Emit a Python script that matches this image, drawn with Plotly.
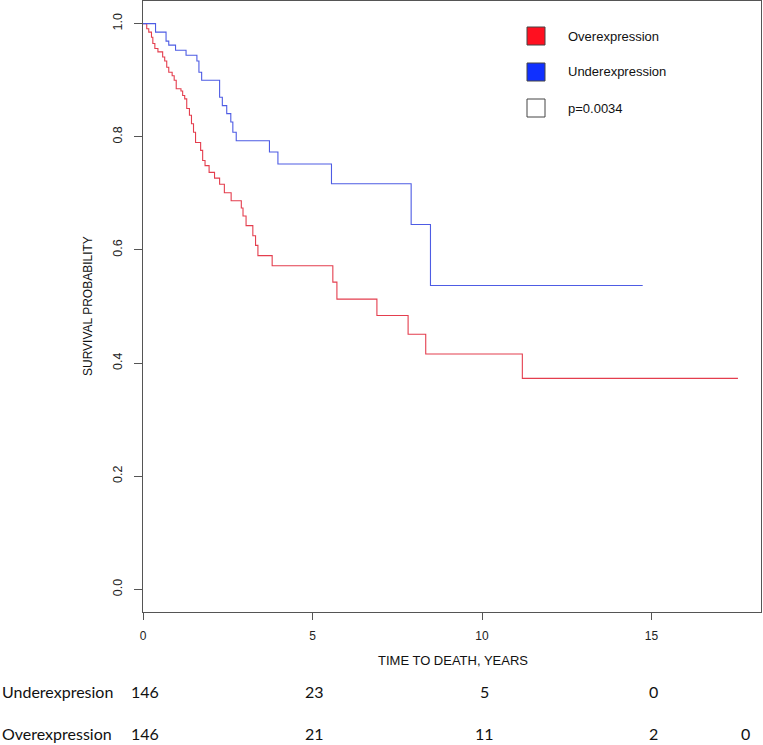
import plotly.graph_objects as go

# Kaplan-Meier step data (time in years, survival probability)
under_t = [0, 0.37, 0.68, 0.76, 0.96, 1.27, 1.59, 1.65, 1.73, 2.26, 2.34, 2.47, 2.59, 2.65, 2.75,
           3.73, 3.98, 5.56, 7.91, 8.48, 14.74]
under_s = [1.0, 0.985, 0.969, 0.962, 0.953, 0.944, 0.934, 0.914, 0.900, 0.870, 0.855, 0.841, 0.826,
           0.808, 0.793, 0.773, 0.752, 0.717, 0.645, 0.537, 0.537]

over_t = [0, 0.11, 0.17, 0.25, 0.29, 0.35, 0.44, 0.58, 0.64, 0.70, 0.76, 0.86, 0.92, 0.98, 1.12,
          1.17, 1.23, 1.29, 1.37, 1.43, 1.49, 1.55, 1.70, 1.76, 1.83, 1.95, 2.11, 2.26, 2.40, 2.60,
          2.90, 2.95, 3.04, 3.24, 3.32, 3.39, 3.81, 5.60, 5.72, 6.90, 7.82, 8.34, 11.19, 17.55]
over_s = [1.0, 0.991, 0.985, 0.976, 0.965, 0.956, 0.950, 0.941, 0.934, 0.923, 0.914, 0.908, 0.900,
          0.885, 0.881, 0.873, 0.867, 0.850, 0.838, 0.823, 0.808, 0.790, 0.776, 0.758, 0.749, 0.737,
          0.727, 0.716, 0.701, 0.687, 0.674, 0.660, 0.643, 0.625, 0.608, 0.590, 0.572, 0.543, 0.513,
          0.484, 0.451, 0.416, 0.373, 0.373]

x_ticks = [0, 5, 10, 15]
y_ticks = [0.0, 0.2, 0.4, 0.6, 0.8, 1.0]
y_ticktext = ["0.0", "0.2", "0.4", "0.6", "0.8", "1.0"]

legend_labels = ["Overexpression", "Underexpression", "p=0.0034"]
legend_colors = ["#ff1020", "#1030ff", "#ffffff"]

risk_times = [0, 5, 10, 15, 17.7]
risk_groups = ["Underexpresion", "Overexpression"]
under_risk = ["146", "23", "5", "0"]
over_risk = ["146", "21", "11", "2", "0"]

W, H = 763, 745
L, R, T, B = 143, 2, 1, 133
pw, ph = W - L - R, H - T - B


def px(x):
    return (x - L) / pw


def py(y):
    return (H - B - y) / ph


fig = go.Figure()
fig.add_trace(go.Scatter(x=over_t, y=over_s, mode="lines", line=dict(color="rgb(228,62,78)", width=1.1, shape="hv"),
                         showlegend=False, hoverinfo="skip"))
fig.add_trace(go.Scatter(x=under_t, y=under_s, mode="lines", line=dict(color="rgb(78,92,228)", width=1.1, shape="hv"),
                         showlegend=False, hoverinfo="skip"))

axis_font = dict(family="Liberation Sans, Arial, sans-serif", size=12, color="#222")

shapes = []
annotations = []
# legend
for i, (lab, col) in enumerate(zip(legend_labels, legend_colors)):
    cy = 36 + i * 36
    shapes.append(dict(type="rect", xref="paper", yref="paper",
                       x0=px(527), x1=px(545), y0=py(cy - 9), y1=py(cy + 9),
                       fillcolor=col, line=dict(color="#444", width=1)))
    annotations.append(dict(text=lab, xref="paper", yref="paper", x=px(566), y=py(cy),
                            xanchor="left", yanchor="middle", showarrow=False,
                            font=dict(family="Liberation Sans, Arial, sans-serif", size=13, color="#111")))

# axis titles
annotations.append(dict(text="TIME TO DEATH, YEARS", xref="paper", yref="paper", x=px(453), y=py(661),
                        xanchor="center", yanchor="middle", showarrow=False,
                        font=dict(family="Liberation Sans, Arial, sans-serif", size=13, color="#111")))
annotations.append(dict(text="SURVIVAL PROBABILITY", xref="paper", yref="paper", x=px(88), y=py(306),
                        xanchor="center", yanchor="middle", showarrow=False, textangle=-90,
                        font=dict(family="Liberation Sans, Arial, sans-serif", size=12, color="#111")))

# risk table
risk_font = dict(family="Lato, Open Sans, sans-serif", size=16, color="#111")
for g, (name, counts, yy) in enumerate(zip(risk_groups, [under_risk, over_risk], [691, 734])):
    annotations.append(dict(text=name, xref="paper", yref="paper", x=px(0), y=py(yy),
                            xanchor="left", yanchor="middle", showarrow=False, font=risk_font))
    for t, c in zip(risk_times, counts):
        annotations.append(dict(text=c, xref="x", yref="paper", x=t, y=py(yy), xshift=2,
                                xanchor="center", yanchor="middle", showarrow=False, font=risk_font))

fig.update_layout(
    width=W, height=H,
    margin=dict(l=L, r=R, t=T, b=B),
    paper_bgcolor="white", plot_bgcolor="white",
    shapes=shapes, annotations=annotations,
    xaxis=dict(range=[0, pw / 33.9], tickvals=x_ticks, ticks="outside", ticklen=7, tickcolor="#555",
               showline=True, linecolor="#555", linewidth=1, mirror=True, showgrid=False, zeroline=False,
               tickfont=axis_font, ticklabelstandoff=6),
    yaxis=dict(range=[-0.04, 1.04], tickvals=y_ticks, ticktext=y_ticktext, ticks="outside", ticklen=8,
               tickcolor="#555", tickangle=-90, showline=True, linecolor="#555", linewidth=1, mirror=True,
               showgrid=False, zeroline=False, tickfont=dict(family="Liberation Sans, Arial, sans-serif", size=12.5, color="#222"),
               ticklabelstandoff=7),
)

fig.write_html("out.html", config={"displayModeBar": False},
               post_script="document.body.style.margin='0';document.body.style.overflow='hidden';")
